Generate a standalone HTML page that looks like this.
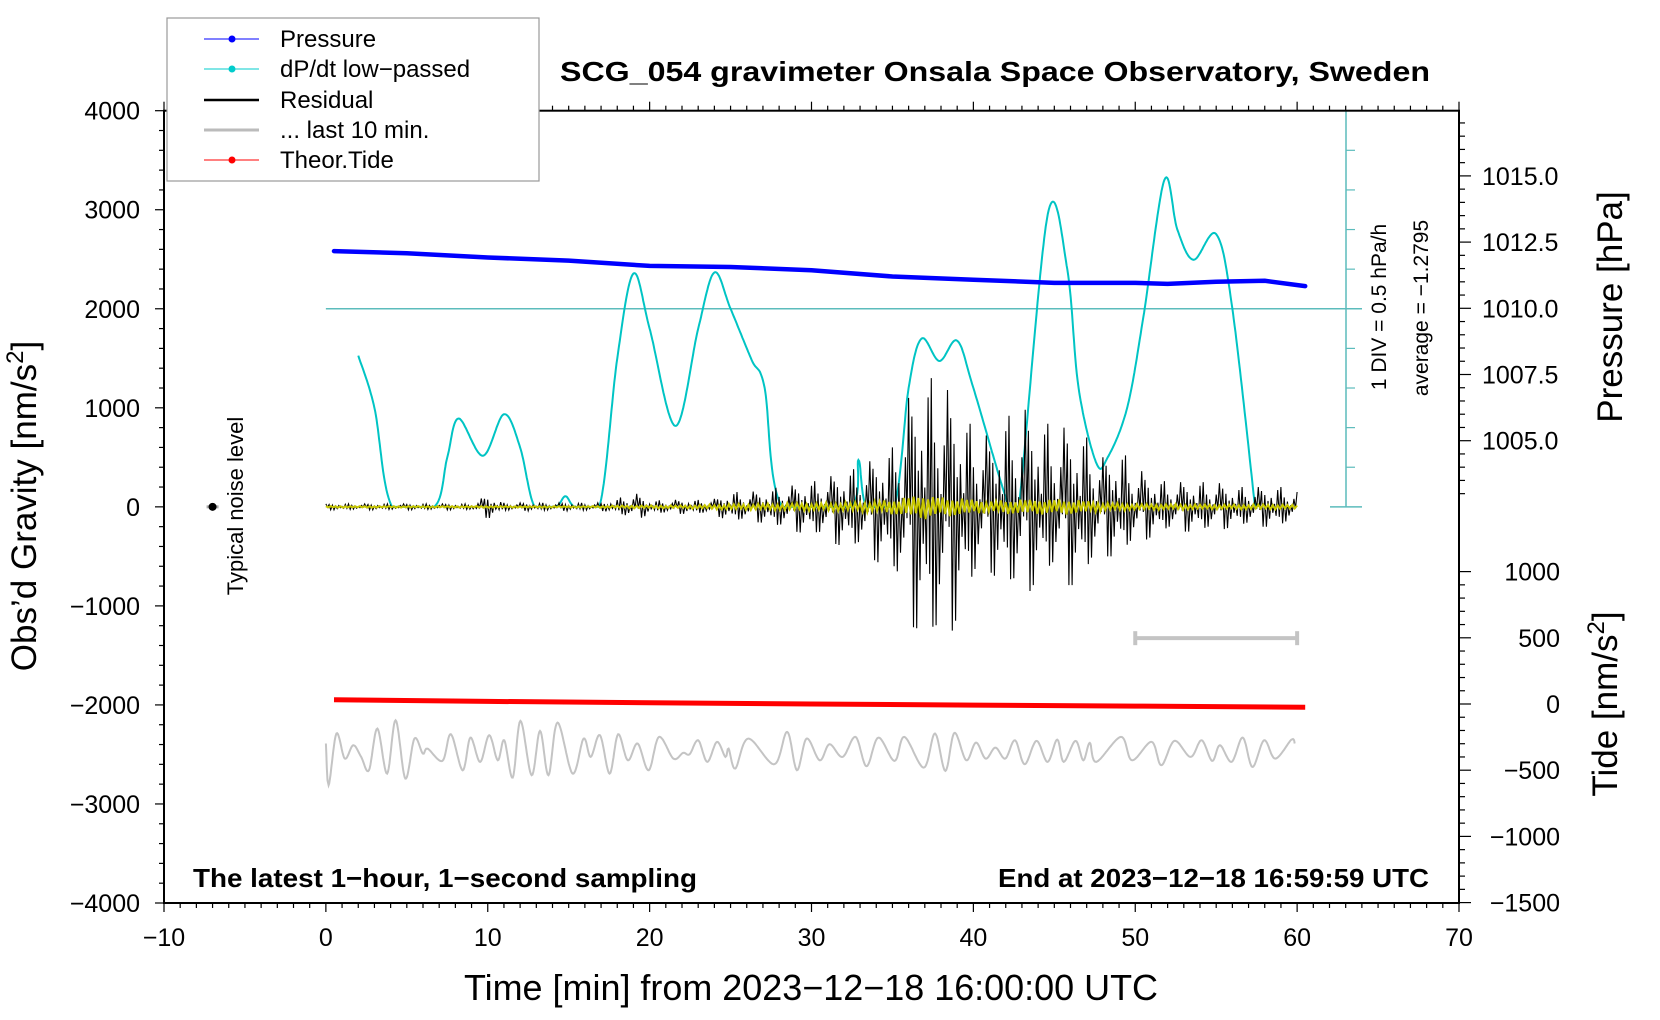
<!DOCTYPE html>
<html><head><meta charset="utf-8"><style>
html,body{margin:0;padding:0;background:#fff;}
svg{display:block;font-family:"Liberation Sans",sans-serif;}
</style></head><body>
<svg id="chart" width="1660" height="1020" viewBox="0 0 1660 1020" xmlns="http://www.w3.org/2000/svg">
<rect x="0" y="0" width="1660" height="1020" fill="#fff"/>
<g id="marks"></g>
<g id="axes"></g>
<text x="995" y="81" font-size="28" font-weight="bold" text-anchor="middle" textLength="870" lengthAdjust="spacingAndGlyphs">SCG_054 gravimeter Onsala Space Observatory, Sweden</text>
<text x="193" y="887" font-size="26" font-weight="bold" textLength="504" lengthAdjust="spacingAndGlyphs">The latest 1−hour, 1−second sampling</text>
<text x="1429" y="887" font-size="26" font-weight="bold" text-anchor="end" textLength="431" lengthAdjust="spacingAndGlyphs">End at 2023−12−18 16:59:59 UTC</text>
<text x="811" y="1000" font-size="36" text-anchor="middle" textLength="694" lengthAdjust="spacingAndGlyphs">Time [min] from 2023−12−18 16:00:00 UTC</text>
<text transform="translate(36,506) rotate(-90)" font-size="35" text-anchor="middle">Obs’d Gravity [nm/s<tspan dy="-13" font-size="24">2</tspan><tspan dy="13">]</tspan></text>
<text transform="translate(1622,307) rotate(-90)" font-size="35" text-anchor="middle">Pressure [hPa]</text>
<text transform="translate(1617,704) rotate(-90)" font-size="35" text-anchor="middle">Tide [nm/s<tspan dy="-13" font-size="24">2</tspan><tspan dy="13">]</tspan></text>
<text transform="translate(243,506) rotate(-90)" font-size="22" text-anchor="middle">Typical noise level</text>
<text transform="translate(1386,307) rotate(-90)" font-size="21" text-anchor="middle">1 DIV = 0.5 hPa/h</text>
<text transform="translate(1428,308) rotate(-90)" font-size="21" text-anchor="middle">average = −1.2795</text>
<g>
<rect x="167" y="18" width="372" height="163" fill="#fff" stroke="#999" stroke-width="1.2"/>
<g><line x1="204" y1="39" x2="259" y2="39" stroke="#00f" stroke-width="1"/><circle cx="232" cy="39" r="3.5" fill="#00f"/><text x="280" y="47" font-size="24">Pressure</text></g>
<g><line x1="204" y1="69" x2="259" y2="69" stroke="#0cc" stroke-width="1"/><circle cx="232" cy="69" r="3.5" fill="#0cc"/><text x="280" y="77" font-size="24">dP/dt low−passed</text></g>
<g><line x1="204" y1="100" x2="259" y2="100" stroke="#000" stroke-width="2.5"/><text x="280" y="108" font-size="24">Residual</text></g>
<g><line x1="204" y1="130" x2="259" y2="130" stroke="#bbb" stroke-width="3"/><text x="280" y="138" font-size="24">... last 10 min.</text></g>
<g><line x1="204" y1="160" x2="259" y2="160" stroke="#f00" stroke-width="1"/><circle cx="232" cy="160" r="3.5" fill="#f00"/><text x="280" y="168" font-size="24">Theor.Tide</text></g>
</g>
</svg>
<script>
// ---- data ----
const xTicks = [-10,0,10,20,30,40,50,60,70];
const gTicks = [4000,3000,2000,1000,0,-1000,-2000,-3000,-4000];
const pTicks = [1015.0,1012.5,1010.0,1007.5,1005.0];
const tideTicks = [1000,500,0,-500,-1000,-1500];
const pressT = [0.5,5,10,15,20,25,30,35,40,45,50,52,55,58,60.5];
const pressV = [1012.16,1012.08,1011.92,1011.8,1011.6,1011.56,1011.44,1011.2,1011.08,1010.96,1010.96,1010.92,1011.0,1011.04,1010.84];
const tideT = [0.5,10,20,30,40,50,60.5];
const tideV = [32,20,10,0,-8,-16,-24];
const dpdtT = [2,3,4.1,6.7,7.5,8.2,9.7,11,12,12.9,14.2,14.8,15.4,16.9,18,19,20,21.6,23,24,25,26.3,27.1,28.2,32.4,32.9,33.4,35.1,36,36.8,37.9,39,40,42.2,42.8,44.6,45.8,46.5,47.6,48.3,49.5,50.5,51.8,52.6,53.6,55,56,57.4];
const dpdtV = [1527,1000,0,0,500,892,516,935,600,0,0,107,0,0,1500,2355,1800,817,1800,2366,2000,1484,1204,0,0,473,0,0,1200,1699,1473,1677,1200,0,0,2957,2400,1200,441,500,1000,1914,3301,2800,2495,2753,2000,0];
const resUp = [30,30,30,30,30,30,30,30,30,30,120,40,40,40,40,40,40,40,80,150,60,70,70,70,80,150,150,160,200,220,250,300,350,400,500,600,1100,1300,1300,1000,800,700,900,1000,900,800,800,700,500,600,400,300,250,250,250,250,200,200,200,200,150];
const resLo = [30,30,30,30,30,30,30,30,30,30,120,40,40,40,40,40,40,40,60,150,70,70,70,70,80,150,150,160,220,250,280,350,400,450,550,650,1200,1250,1600,1100,800,650,800,1000,700,700,800,700,500,500,400,300,250,250,250,250,200,200,200,200,150];
const yelAmp = [8,8,8,8,8,8,8,8,8,8,10,8,8,8,8,8,8,10,12,15,15,15,15,20,25,30,30,35,35,40,40,45,45,50,60,75,100,125,100,90,75,60,70,75,75,80,75,60,45,40,30,30,30,30,25,25,25,25,25,25,20];
const jitter = [1,0.35,0.8,0.2,0.6,0.95,0.3,0.7,0.45,0.9,0.15,0.55,0.85,0.4,1,0.25,0.5,0.75,0.3,0.65,0.1,0.9,0.5,0.35];
const greyT = [0,0.17,0.65,1.17,1.69,2.18,2.66,3.18,3.78,4.31,4.91,5.47,5.99,6.28,7.2,7.72,8.45,8.93,9.53,10.09,10.62,11.02,11.54,12.02,12.71,13.23,13.75,14.31,15.24,15.92,16.36,16.93,17.53,18.05,18.65,19.26,19.94,20.58,21.47,22.07,22.47,23.0,23.56,24.16,24.68,24.88,25.29,26.09,27.7,28.5,29.1,29.7,30.51,31.11,31.92,32.72,33.4,34.13,35.13,35.74,36.94,37.63,38.27,38.83,39.56,40.16,40.76,41.36,41.97,42.57,43.17,43.9,44.58,45.18,45.58,46.31,46.79,47.19,47.59,49.12,49.8,51.01,51.61,52.42,53.42,54.1,54.75,55.23,55.95,56.64,57.24,57.96,58.65,59.65,59.85];
const greyV = [-2390,-2811,-2289,-2542,-2407,-2525,-2660,-2239,-2693,-2155,-2744,-2340,-2491,-2441,-2565,-2296,-2660,-2330,-2575,-2306,-2559,-2357,-2734,-2161,-2710,-2262,-2710,-2178,-2693,-2340,-2525,-2306,-2693,-2296,-2559,-2390,-2660,-2323,-2542,-2484,-2498,-2357,-2575,-2373,-2525,-2441,-2643,-2340,-2599,-2272,-2660,-2340,-2559,-2397,-2525,-2323,-2619,-2330,-2565,-2323,-2633,-2289,-2666,-2282,-2559,-2380,-2542,-2431,-2542,-2357,-2599,-2363,-2575,-2350,-2575,-2363,-2559,-2383,-2575,-2323,-2559,-2373,-2609,-2363,-2525,-2357,-2565,-2407,-2575,-2330,-2626,-2357,-2542,-2350,-2390];
const scaleBar = [50,60,-1326];
const noiseDot = [-7,0];

// ---- axes functions ----
const X0=164, X1=1459, YT=110.7, YB=903;
const xs = t => X0 + (t+10)/80*(X1-X0);
const gy = g => 506.85 - g/8000*(YB-YT);
const py = p => 308.3 - (p-1010)/2.5*66.2;
const ty = v => 704 - v/500*66.2;
const NS='http://www.w3.org/2000/svg';
const marks=document.getElementById('marks'), axes=document.getElementById('axes');
function el(tag,attrs,parent){const e=document.createElementNS(NS,tag);for(const k in attrs)e.setAttribute(k,attrs[k]);parent.appendChild(e);return e;}
function crSample(T,V,step){const out=[];const n=T.length;
  for(let i=0;i<n-1;i++){const p0=i>0?i-1:i,p3=i+2<n?i+2:i+1;
    const segs=Math.max(2,Math.ceil((T[i+1]-T[i])/step));
    for(let s=0;s<segs;s++){const u=s/segs,u2=u*u,u3=u2*u;
      const f=(a,b,c,d)=>0.5*(2*b+(-a+c)*u+(2*a-5*b+4*c-d)*u2+(-a+3*b-3*c+d)*u3);
      out.push([f(T[p0],T[i],T[i+1],T[p3]),f(V[p0],V[i],V[i+1],V[p3])]);}}
  out.push([T[n-1],V[n-1]]);return out;}

let e;
e=el('line',{x1:xs(0),y1:gy(2000),x2:1362,y2:gy(2000),stroke:'#5cbcbc','stroke-width':1.5},marks);


const dg=el('g',{},marks);


el('line',{x1:1346,y1:YT,x2:1346,y2:gy(0),stroke:'#5cbcbc','stroke-width':1.5},dg);
el('line',{x1:1330,y1:YT,x2:1362,y2:YT,stroke:'#5cbcbc','stroke-width':1.5},dg);
el('line',{x1:1330,y1:gy(0),x2:1362,y2:gy(0),stroke:'#5cbcbc','stroke-width':1.5},dg);
for(let i=1;i<10;i++){const y=YT+i*(gy(0)-YT)/10;el('line',{x1:1346,y1:y,x2:1355,y2:y,stroke:'#5cbcbc','stroke-width':1.2},dg);}

let pts=crSample(greyT,greyV,0.05).map(p=>xs(p[0]).toFixed(1)+','+gy(p[1]).toFixed(1)).join(' ');
e=el('polyline',{points:pts,fill:'none',stroke:'#c4c4c4','stroke-width':2},marks);



pts=crSample(dpdtT,dpdtV,0.05).map(p=>xs(p[0]).toFixed(1)+','+gy(Math.max(0,p[1])).toFixed(1)).join(' ');
e=el('polyline',{points:pts,fill:'none',stroke:'#00c4c4','stroke-width':2},marks);



let rp=[];let k=0;
for(let t=0;t<=60.0001;t+=0.1,k++){const i=Math.min(59,Math.floor(t)),f=t-i;
  const up=resUp[i]*(1-f)+resUp[i+1]*f, lo=resLo[i]*(1-f)+resLo[i+1]*f;
  const j=jitter[k%jitter.length];const v=(k%2===0)?up*j:-lo*jitter[(k*7+3)%jitter.length];
  rp.push(xs(t).toFixed(1)+','+gy(v).toFixed(1));}
e=el('polyline',{points:rp.join(' '),fill:'none',stroke:'#000','stroke-width':1.1},marks);


let yp=[];k=0;
for(let t=0;t<=60.0001;t+=0.15,k++){const i=Math.min(59,Math.floor(t)),f=t-i;
  const a=yelAmp[i]*(1-f)+yelAmp[i+1]*f;const j=jitter[(k+7)%jitter.length];
  yp.push(xs(t).toFixed(1)+','+gy((k%2?-1:1)*a*(0.5+j*0.5)).toFixed(1));}
e=el('polyline',{points:yp.join(' '),fill:'none',stroke:'#c8c800','stroke-width':2},marks);



pts=pressT.map((t,i)=>xs(t).toFixed(1)+','+py(pressV[i]).toFixed(1)).join(' ');
e=el('polyline',{points:pts,fill:'none',stroke:'#0000ff','stroke-width':4.5,'stroke-linecap':'round'},marks);


pts=tideT.map((t,i)=>xs(t).toFixed(1)+','+ty(tideV[i]).toFixed(1)).join(' ');
e=el('polyline',{points:pts,fill:'none',stroke:'#ff0000','stroke-width':5},marks);



const sb=el('g',{stroke:'#c4c4c4','stroke-width':4},marks);


el('line',{x1:xs(scaleBar[0]),y1:gy(scaleBar[2]),x2:xs(scaleBar[1]),y2:gy(scaleBar[2])},sb);
el('line',{x1:xs(scaleBar[0]),y1:gy(scaleBar[2])-7,x2:xs(scaleBar[0]),y2:gy(scaleBar[2])+7},sb);
el('line',{x1:xs(scaleBar[1]),y1:gy(scaleBar[2])-7,x2:xs(scaleBar[1]),y2:gy(scaleBar[2])+7},sb);
el('line',{x1:xs(noiseDot[0])-6,y1:gy(0),x2:xs(noiseDot[0])+6,y2:gy(0),stroke:'#aaa','stroke-width':3},marks);
e=el('circle',{cx:xs(noiseDot[0]),cy:gy(noiseDot[1]),r:4,fill:'#000'},marks);



e=el('rect',{x:X0,y:YT,width:X1-X0,height:YB-YT,fill:'none',stroke:'#000','stroke-width':2},axes);


for(let t=-10;t<=70;t++){const x=xs(t),maj=t%10===0;
  el('line',{x1:x,y1:YB,x2:x,y2:YB+(maj?9:5),stroke:'#000','stroke-width':1.2},axes);
  el('line',{x1:x,y1:YT,x2:x,y2:YT-(maj?9:5),stroke:'#000','stroke-width':1.2},axes);}
xTicks.forEach(t=>{const tx=el('text',{x:xs(t),y:946,'font-size':25,'text-anchor':'middle'},axes);tx.textContent=t<0?'−'+Math.abs(t):String(t);
  
  });
for(let g=-4000;g<=4000;g+=200){const y=gy(g),maj=g%1000===0;el('line',{x1:X0,y1:y,x2:X0-(maj?9:5),y2:y,stroke:'#000','stroke-width':1.2},axes);}
gTicks.forEach(g=>{const tx=el('text',{x:140,y:gy(g)+9,'font-size':25,'text-anchor':'end'},axes);tx.textContent=g<0?'−'+Math.abs(g):String(g);
  
  });
for(let p=1002.5;p<=1017.5;p+=0.5){const y=py(p);if(y<YT||y>gy(0))continue;const maj=Math.abs(p*2/5-Math.round(p*2/5))<1e-6;
  el('line',{x1:X1,y1:y,x2:X1+(maj?12:6),y2:y,stroke:'#000','stroke-width':1.2},axes);}
pTicks.forEach(p=>{const tx=el('text',{x:1482,y:py(p)+9,'font-size':25},axes);tx.textContent=p.toFixed(1);
  
  });
for(let v=-1500;v<=1000;v+=100){const y=ty(v),maj=v%500===0;el('line',{x1:X1,y1:y,x2:X1+(maj?12:6),y2:y,stroke:'#000','stroke-width':1.2},axes);}
tideTicks.forEach(v=>{const tx=el('text',{x:1560,y:ty(v)+9,'font-size':25,'text-anchor':'end'},axes);tx.textContent=v<0?'−'+Math.abs(v):String(v);
  
  });
</script>
</body></html>
